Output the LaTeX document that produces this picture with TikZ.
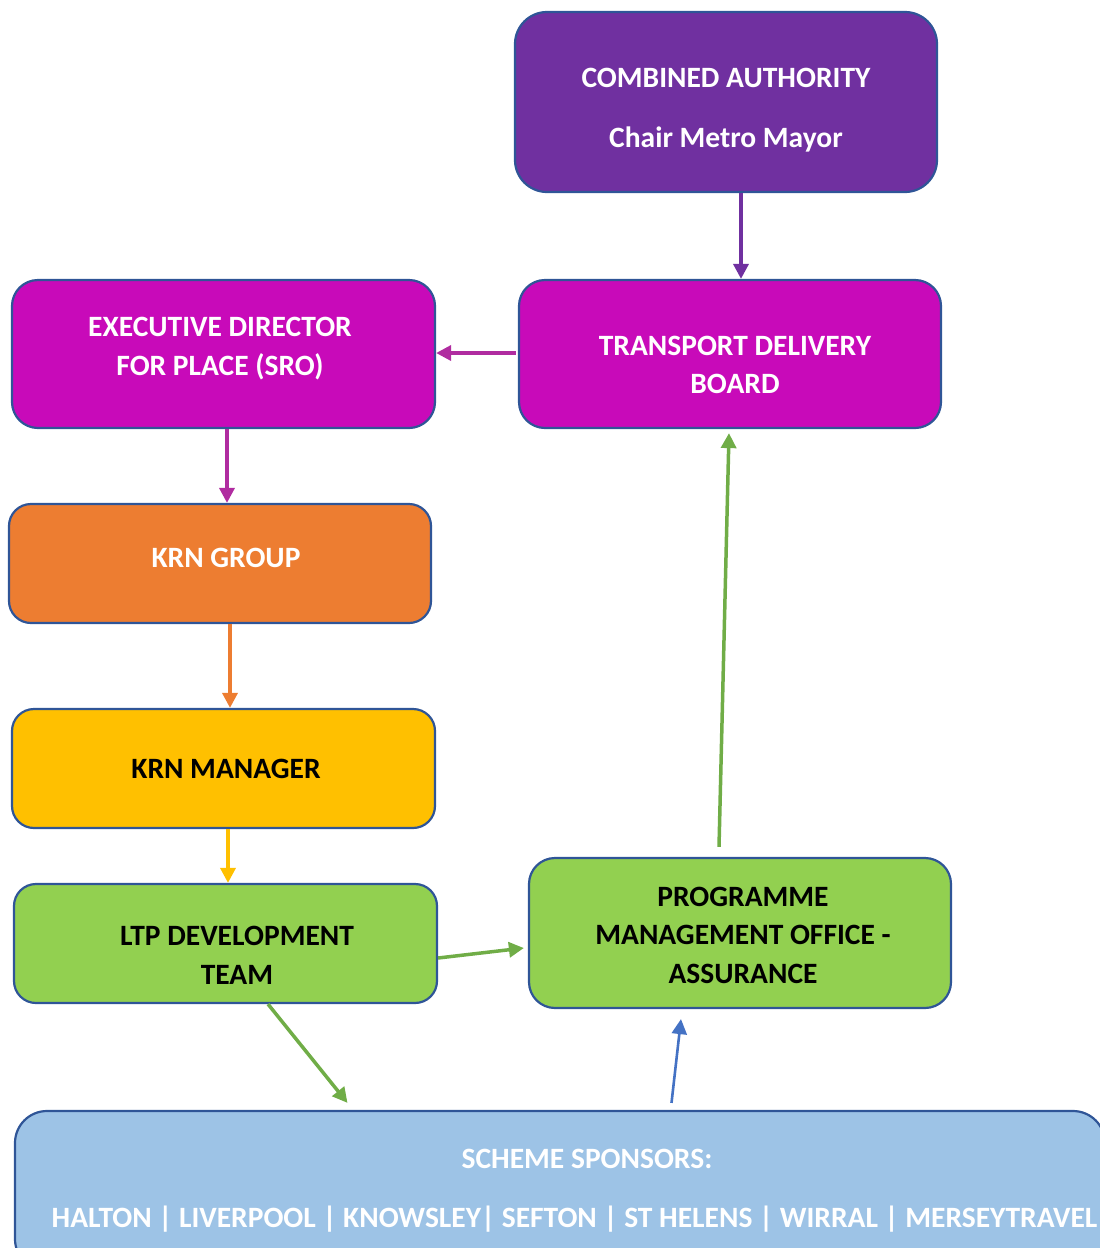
\documentclass[tikz,border=0pt]{standalone}
\usepackage{fontspec}
\setmainfont{Carlito}
\usetikzlibrary{arrows.meta,calc}
\definecolor{bordc}{HTML}{2F5597}
\definecolor{purp}{HTML}{7030A0}
\definecolor{mag}{HTML}{C80AB9}
\definecolor{magline}{HTML}{B02CA0}
\definecolor{orng}{HTML}{ED7D31}
\definecolor{yell}{HTML}{FFC000}
\definecolor{grn}{HTML}{92D050}
\definecolor{grnline}{HTML}{70AD47}
\definecolor{blu}{HTML}{9DC3E6}
\definecolor{bluline}{HTML}{4472C4}
\tikzset{
  box/.style={draw=bordc, line width=2.2pt, inner sep=0pt},
  txt/.style={align=center, inner sep=0pt, font=\bfseries\fontsize{29.5}{38.5}\selectfont},
  conn/.style={line width=3.5pt, -{Triangle[width=15pt,length=15pt]}},
}
\begin{document}
\begin{tikzpicture}[x=1pt,y=-1pt]
\useasboundingbox (0,0) rectangle (1100,1248);
\clip (0,0) rectangle (1100,1248);
\node[box, fill=purp, rounded corners=32pt, minimum width=422pt, minimum height=180pt] (ca) at (726,102) {};
\node[box, fill=mag, rounded corners=26pt, minimum width=422pt, minimum height=148pt] (tdb) at (730,354) {};
\node[box, fill=mag, rounded corners=26pt, minimum width=423pt, minimum height=148pt] (edp) at (223.5,354) {};
\node[box, fill=orng, rounded corners=22pt, minimum width=422pt, minimum height=119pt] (krng) at (220,563.5) {};
\node[box, fill=yell, rounded corners=22pt, minimum width=423pt, minimum height=119pt] (krnm) at (223.5,768.5) {};
\node[box, fill=grn, rounded corners=22pt, minimum width=423pt, minimum height=119pt] (ltp) at (225.5,943.5) {};
\node[box, fill=grn, rounded corners=26pt, minimum width=422pt, minimum height=150pt] (pmo) at (740,933) {};
\node[box, fill=blu, rounded corners=32pt, minimum width=1090pt, minimum height=160pt] (sch) at (560,1191) {};

\node[txt, text=white, font=\bfseries\fontsize{29.5}{60}\selectfont] (cat) at (726,110) {COMBINED AUTHORITY\\Chair Metro Mayor};
\node[txt, text=white] (tdbt) at (735,365) {TRANSPORT DELIVERY\\BOARD};
\node[txt, text=white] (edpt) at (220,348.5) {EXECUTIVE DIRECTOR\\FOR PLACE (SRO)};
\node[txt, text=white] (krngt) at (226,558) {KRN GROUP};
\node[txt, text=black] (krnmt) at (226,769) {KRN MANAGER};
\node[txt, text=black] (ltpt) at (237,955.5) {LTP DEVELOPMENT\\TEAM};
\node[txt, text=black] (pmot) at (743,935) {PROGRAMME\\MANAGEMENT OFFICE -\\ASSURANCE};
\node[txt, text=white] (scht) at (587,1159) {SCHEME SPONSORS:};
\node[txt, text=white] (schl) at (574.5,1219) {HALTON | LIVERPOOL | KNOWSLEY| SEFTON | ST HELENS | WIRRAL | MERSEYTRAVEL};

\draw[conn, purp] ($(ca.south)+(15,0)$) -- ($(tdb.north)+(11,0)$);
\draw[conn, magline] ($(tdb.west)+(-2,-1)$) -- ($(edp.east)+(0,-1)$);
\draw[conn, magline] ($(edp.south)+(3.5,0)$) -- ($(krng.north)+(7,0)$);
\draw[conn, orng] ($(krng.south)+(10,0)$) -- ($(krnm.north)+(6.5,0)$);
\draw[conn, yell] ($(krnm.south)+(4.5,0)$) -- ($(ltp.north)+(2.5,0)$);
\draw[conn, grnline] ($(ltp.east)+(0,14.5)$) -- ($(pmo.west)+(-4,15)$);
\draw[conn, grnline] ($(ltp.south)+(42.5,0)$) -- ($(sch.north)+(-212.5,-7)$);
\draw[conn, grnline] ($(pmo.north)+(-21,-10)$) -- ($(tdb.south)+(-1,4)$);
\draw[conn, bluline, line width=2.6pt] ($(sch.north)+(111.5,-7)$) -- ($(pmo.south)+(-59,10)$);
\end{tikzpicture}
\end{document}
